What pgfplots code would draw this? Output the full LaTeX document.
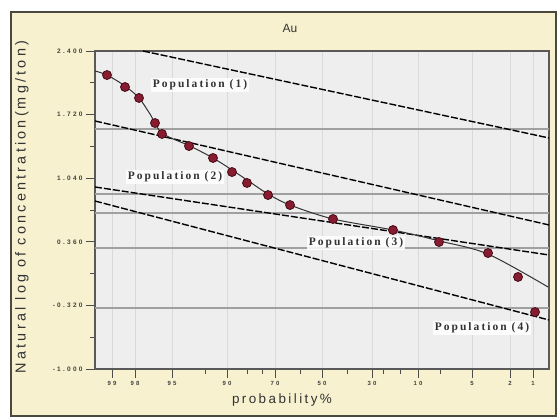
\documentclass[border=0pt]{standalone}
\usepackage{fontspec}
\setmainfont{Liberation Sans}
\usepackage{pgfplots}
\pgfplotsset{compat=1.18}
\newfontfamily\labfont[LetterSpace=18]{Liberation Sans}
\newfontfamily\ylabfont[LetterSpace=22]{Liberation Sans}
\newfontfamily\tickfont[LetterSpace=35]{Liberation Sans}
\newfontfamily\popfont[LetterSpace=18]{Liberation Serif}
\definecolor{cream}{RGB}{247,241,208}
\definecolor{plotbg}{RGB}{238,238,238}
\definecolor{framedark}{RGB}{75,72,62}
\definecolor{ptfill}{RGB}{135,28,48}
\definecolor{ptedge}{RGB}{70,12,22}
\definecolor{hline}{RGB}{160,160,160}

% data (x = position on the probability axis, y = natural log of concentration)
\pgfplotstableread{
x y
107 2.143
125 2.015
139 1.898
155 1.630
162 1.513
189 1.384
213 1.256
232 1.106
247 0.989
268 0.860
290 0.753
333 0.604
393 0.486
439 0.358
488 0.240
518 -0.016
535 -0.391
}\pts

\begin{document}
\begin{tikzpicture}
\begin{scope}[x=1bp,y=1bp]
\fill[white] (-95,-50) rectangle (463,369);
\draw[fill=cream, draw=framedark, line width=1.6bp] (-84,-47) rectangle (461,357);
\end{scope}
\begin{axis}[
  at={(0,0)}, anchor=south west,
  scale only axis, width=454bp, height=318bp,
  xmin=95, xmax=549, ymin=-1, ymax=2.4,
  axis background/.style={fill=plotbg},
  xtick={112,135,172,227,275,322,372,418,472,510,533},
  xticklabels={99,98,95,90,70,50,30,10,5,2,1},
  minor xtick={205,247,262,300,347,383,400,440},
  ytick={2.4,1.72,1.04,0.36,-0.32,-1},
  yticklabels={2.400,1.720,1.040,0.360,-0.320,-1.000},
  minor ytick={2.06,1.38,0.70,0.02,-0.66},
  xmajorgrids, grid style={draw=gray!30, line width=0.6bp},
  xtick pos=bottom, ytick pos=left, tick align=outside,
  major tick length=9bp, minor tick length=5bp,
  tick style={draw=black!70, line width=0.9bp},
  axis line style={draw=black!65, line width=1.6bp},
  xticklabel style={font=\tickfont\bfseries\fontsize{6}{7}\selectfont, text=black!75},
  yticklabel style={font=\tickfont\bfseries\fontsize{6.5}{7}\selectfont, text=black!75},
]
% horizontal threshold lines
\addplot[hline, line width=1.2bp, forget plot] coordinates {(95,1.566) (549,1.566)};
\addplot[hline, line width=1.2bp, forget plot] coordinates {(95,0.871) (549,0.871)};
\addplot[hline, line width=1.2bp, forget plot] coordinates {(95,0.668) (549,0.668)};
\addplot[hline, line width=1.2bp, forget plot] coordinates {(95,0.294) (549,0.294)};
\addplot[hline, line width=1.2bp, forget plot] coordinates {(95,-0.348) (549,-0.348)};
% population lines
\addplot[black, line width=1.4bp, dash pattern=on 7bp off 2bp] coordinates {(143,2.40) (549,1.470)};
\addplot[black, line width=1.4bp, dash pattern=on 7bp off 2bp] coordinates {(95,1.652) (549,0.540)};
\addplot[black, line width=1.4bp, dash pattern=on 7bp off 2bp] coordinates {(95,0.946) (549,0.219)};
\addplot[black, line width=1.4bp, dash pattern=on 7bp off 2bp] coordinates {(95,0.796) (549,-0.476)};
% fitted curve
\addplot[black!80, line width=1bp, smooth, tension=0.5] coordinates {
(95,2.186) (107,2.143) (125,2.026) (139,1.898) (150,1.726) (162,1.523)
(190,1.384) (213,1.256) (232,1.128) (250,0.999) (268,0.871) (290,0.753)
(333,0.604) (393,0.486) (440,0.368) (488,0.229) (548,-0.123)};
% samples
\addplot[only marks, mark=*, mark size=4.5bp, mark options={fill=ptfill, draw=ptedge, line width=0.8bp}] table[x=x,y=y] {\pts};
% labels
\tikzset{pop/.style={fill=white, fill opacity=0.85, text opacity=1, inner sep=1.5bp, font=\popfont\bfseries\fontsize{11.5}{13}\selectfont, text=black!80}}
\node[pop] at (axis cs:200,2.036) {Population (1)};
\node[pop] at (axis cs:175,1.053) {Population (2)};
\node[pop] at (axis cs:356,0.347) {Population (3)};
\node[pop] at (axis cs:482,-0.562) {Population (4)};
\end{axis}
\begin{scope}[x=1bp,y=1bp]
\node[rotate=90, font=\ylabfont\fontsize{14.5}{16}\selectfont, text=black!80] at (-73,162) {Natural log of concentration(mg/ton)};
\node[font=\labfont\fontsize{13.5}{15}\selectfont, text=black!80] at (187,-31) {probability\%};
\node[font=\fontsize{12}{14}\selectfont, text=black!80] at (195,341) {Au};
\end{scope}
\end{tikzpicture}
\end{document}
